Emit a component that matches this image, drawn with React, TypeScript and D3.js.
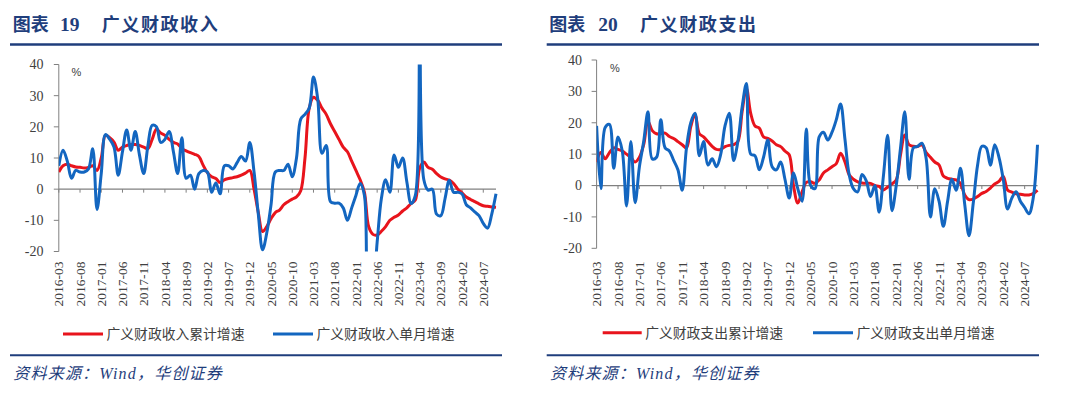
import React from 'react';
import * as d3 from 'd3';

// ---------- data ----------
const START_MONTH = '2016-03';
const N_MONTHS = 104; // 2016-03 .. 2024-10

const TICK_LABELS = [
  '2016-03', '2016-08', '2017-01', '2017-06', '2017-11', '2018-04', '2018-09',
  '2019-02', '2019-07', '2019-12', '2020-05', '2020-10', '2021-03', '2021-08',
  '2022-01', '2022-06', '2022-11', '2023-04', '2023-09', '2024-02', '2024-07',
];

const Y_TICKS = [40, 30, 20, 10, 0, -10, -20];

// 广义财政收入累计增速
const REV_CUM = [
  5.5, 7.5, 8, 7.5, 7.1, 7, 6.8, 7, 7.5, 6,
  10, 17.3, 16.5, 15.1, 12.5, 13.5, 14, 14.3, 14.3, 14,
  13.5, 13, 16, 19.2, 18, 17.3, 16, 15, 14.5, 13,
  12.3, 11.7, 11.2, 10.5, 7.7, 5.3, 4, 3.4, 2.1, 3,
  3.4, 3.7, 4, 4.5, 5.2, 6, 0, -7.5, -13.6, -12,
  -9.5, -7.5, -6.7, -5, -4, -3.2, -2.5, -0.5, 10, 26,
  29.5, 28.5, 26, 24, 21, 18.5, 16, 13.5, 12, 9,
  6, 3, -1, -12, -14.5, -14.7, -13.5, -12, -10, -9,
  -8.3, -7, -6, -4.6, -3.5, 6.6, 8.7, 7, 6.4, 5,
  3.9, 3.3, 2.9, 1.8, 0, -1.2, -2.5, -3.3, -4, -4.7,
  -5.3, -5.5, -5.7, -5.8,
];

// 广义财政收入单月增速
const REV_MONTH = [
  7.5, 12.5, 9, 3.5, 6, 5.5, 5.5, 6.5, 13, -6.5,
  5, 17.5, 16, 13.5, 4.5, 12, 19, 12.5, 18.5, 11,
  5, 14, 20.5, 20, 15, 16, 18.5, 12, 5, 16.5,
  3.5, 4.5, 0, 5, 6, 5.5, -1, 2, -1.5, 7.5,
  7.5, 6.5, 8.5, 10.5, 9, 15, 5.5, -8, -19.5, -14,
  -5, 5.5, 6, 6, 8, 4, 10, 22.5, 24, 26,
  36, 29, 11.5, 14, -4, -4.5, -4.5, -6, -10, -6,
  -2, 1.8, -2, -35, -32, -17, -3, 3, -1, 11,
  7, 10, 2.3, -4.6, -2, 75, 3, -0.3, 0, -8,
  -8.5, -3, 2.9, -1, -1, -1.5, -5, -6, -7.3, -8.5,
  -11, -12.5, -8, -1.5,
];

// 广义财政支出累计增速
const EXP_CUM = [
  7.5, 10.5, 8.5, 10.5, 12, 11.5, 11, 10, 9, 7.5,
  9, 13, 20.5, 17.5, 16.5, 16.5, 16.7, 15.6, 15, 14,
  13, 12, 18.8, 22.7, 16.5, 15.5, 14, 12.5, 11.5, 11.5,
  12.4, 12.8, 13, 14, 23.6, 31, 23, 19, 18.3, 15.5,
  15, 14.2, 13, 12.4, 11, 9.8, 0, -5.6, -2, 1,
  1.2, 0.7, 1.8, 4, 5, 6, 7, 10.3, 7.6, 3.4,
  2, 1.2, 0.8, 0.7, 0.7, 0, -0.3, -1.4, -0.5, 0.5,
  1.8, 9.8, 16.1, 13, 12.5, 12.4, 13, 10.5, 9, 7.5,
  6.6, 3, 2.3, 2, 1.8, 0.7, -3, -4.5, -4.3, -3.5,
  -2.5, -1.9, -0.8, 0.5, 1.3, 2.9, -1.4, -2.1, -2.6, -2.8,
  -3, -3, -2.6, -1.5,
];

// 广义财政支出单月增速
const EXP_MONTH = [
  19, -1, 18.5, 19.5, 5.5, 15.5, 11, -6.5, 14, -5.5,
  6, 14, 23.5, 8.5, 9, 21, 12, 11, 8, 5,
  -1.5, 12, 20, 23, 9.5, 14, 6.5, 8.5, 6, 10,
  19, 23, 8, 14, 25, 32.5, 10, 9.5, 5, 9,
  14.5, 6, 5, 7.5, 2, -4, 4, -1, -5, 18,
  0, -1, 15.5, 17, 14.5, 17, 21, 26, 15, 3.5,
  -1, -2, 3.5, 1.5, -3.5, 0, -8.5, 3, 16, -8,
  0, 12, 23.5, 2, 12, 12.5, 13.5, 8.5, -10, -1,
  -5, -13, -5, 2, -1.5, 5.5, -6, -16, -5.5, 6.5,
  12.5, 12, 6.5, 13, 9, 2, -7.5, -4, -2, -5,
  -7, -9, -4, 13,
];

// ---------- style ----------
const RED = '#E8141C';
const BLUE = '#1366C0';
const NAVY = '#1F3E7C';
const AXIS = '#808080';
const TEXT = '#404040';
const SERIF = "'Liberation Serif', 'Times New Roman', serif";
const CJK = "'Noto Sans CJK SC', 'Noto Sans', sans-serif";
const MIXED = "'Liberation Serif', 'Noto Sans CJK SC', serif";

const monthIndex = d3.range(N_MONTHS);
const startDate = d3.timeParse('%Y-%m')(START_MONTH) as Date;
const categories = monthIndex.map((i) => d3.timeFormat('%Y-%m')(d3.timeMonth.offset(startDate, i)));

interface PanelProps {
  id: string;
  num: string;
  title: string;
  cumName: string;
  monName: string;
  cum: number[];
  mon: number[];
  titleX: number;
  numX: number;
  title2X: number;
  ruleX0: number;
  ruleX1: number;
  px0: number;
  px1: number;
  pyTop: number;
  pyBot: number;
  yLabelRight: number;
  pctX: number;
  pctY: number;
  legY: number;
  legRed: [number, number];
  legBlue: [number, number];
  sourceX: number;
}

function Panel(p: PanelProps) {
  const x = d3.scaleLinear().domain([0, N_MONTHS - 1]).range([p.px0, p.px1]);
  const y = d3.scaleLinear().domain([-20, 40]).range([p.pyBot, p.pyTop]);
  const line = d3
    .line<number>()
    .x((_, i) => x(i))
    .y((d) => y(d))
    .curve(d3.curveCatmullRom.alpha(0.5));
  const tickIdx = TICK_LABELS.map((t) => categories.indexOf(t));
  const clipId = `clip-${p.id}`;
  return (
    <g>
      {/* title */}
      <text x={p.titleX} y={30.5} fontFamily={CJK} fontWeight={700} fontSize={18} fill={NAVY}>
        图表
      </text>
      <text x={p.numX} y={30.5} fontFamily={SERIF} fontWeight={700} fontSize={19.5} fill={NAVY}>
        {p.num}
      </text>
      <text x={p.title2X} y={30.5} fontFamily={CJK} fontWeight={700} fontSize={18} letterSpacing={1.6} fill={NAVY}>
        {p.title}
      </text>
      <line x1={p.ruleX0} x2={p.ruleX1} y1={44.5} y2={44.5} stroke={NAVY} strokeWidth={2.6} />

      <defs>
        <clipPath id={clipId}>
          <rect x={p.px0} y={p.pyTop} width={p.px1 - p.px0 + 2} height={p.pyBot - p.pyTop} />
        </clipPath>
      </defs>

      {/* y axis */}
      <line x1={p.px0} x2={p.px0} y1={y(40)} y2={y(-20)} stroke={AXIS} strokeWidth={1} />
      {Y_TICKS.map((t) => (
        <g key={t}>
          <line x1={p.px0 - 5} x2={p.px0} y1={y(t)} y2={y(t)} stroke={AXIS} strokeWidth={1} />
          <text
            x={p.yLabelRight}
            y={y(t)}
            dy="0.35em"
            textAnchor="end"
            fontFamily={SERIF}
            fontSize={14}
            fill={TEXT}
          >
            {t}
          </text>
        </g>
      ))}
      <text x={p.pctX} y={p.pctY} fontFamily="'Liberation Sans', Arial, sans-serif" fontSize={11} fill={TEXT}>
        %
      </text>

      {/* x axis at zero */}
      <line x1={p.px0} x2={p.px1} y1={y(0)} y2={y(0)} stroke={AXIS} strokeWidth={1.2} />
      {tickIdx.map((i) => (
        <line key={i} x1={x(i)} x2={x(i)} y1={y(0)} y2={y(0) + 3.5} stroke={AXIS} strokeWidth={1} />
      ))}
      {tickIdx.map((i, k) => (
        <text
          key={`l${i}`}
          transform={`translate(${x(i)},${261.5}) rotate(-90)`}
          textAnchor="end"
          dy="0.34em"
          fontFamily={SERIF}
          fontSize={13.5}
          fill={TEXT}
        >
          {TICK_LABELS[k]}
        </text>
      ))}

      {/* series */}
      <g clipPath={`url(#${clipId})`}>
        <path d={line(p.cum) || ''} fill="none" stroke={RED} strokeWidth={3} strokeLinejoin="round" />
        <path d={line(p.mon) || ''} fill="none" stroke={BLUE} strokeWidth={3} strokeLinejoin="round" />
      </g>

      {/* legend */}
      <line x1={p.legRed[0]} x2={p.legRed[1]} y1={p.legY} y2={p.legY} stroke={RED} strokeWidth={3} />
      <text x={p.legRed[1] + 3.5} y={p.legY} dy="0.36em" fontFamily={CJK} fontSize={13.8} fill={TEXT}>
        {p.cumName}
      </text>
      <line x1={p.legBlue[0]} x2={p.legBlue[1]} y1={p.legY} y2={p.legY} stroke={BLUE} strokeWidth={3} />
      <text x={p.legBlue[1] + 3.5} y={p.legY} dy="0.36em" fontFamily={CJK} fontSize={13.8} fill={TEXT}>
        {p.monName}
      </text>

      {/* footer */}
      <line x1={p.ruleX0} x2={p.ruleX1} y1={355.3} y2={355.3} stroke={NAVY} strokeWidth={2} />
      <text
        x={p.sourceX}
        y={379}
        fontFamily={MIXED}
        fontStyle="italic"
        fontSize={16}
        letterSpacing={1.2}
        fill={NAVY}
      >
        资料来源：Wind，华创证券
      </text>
    </g>
  );
}

export default function App() {
  return (
    <svg
      width={1080}
      height={397}
      viewBox="0 0 1080 397"
      style={{ position: 'absolute', left: 0, top: 0, background: '#fff' }}
    >
      <rect width={1080} height={397} fill="#fff" />
      <Panel
        id="rev"
        num="19"
        title="广义财政收入"
        cumName="广义财政收入累计增速"
        monName="广义财政收入单月增速"
        cum={REV_CUM}
        mon={REV_MONTH}
        titleX={12.7}
        numX={60}
        title2X={101.7}
        ruleX0={10}
        ruleX1={502}
        px0={58.8}
        px1={496}
        pyTop={64.5}
        pyBot={251.5}
        yLabelRight={43.5}
        pctX={71.5}
        pctY={75.5}
        legY={334}
        legRed={[63, 103]}
        legBlue={[273, 313]}
        sourceX={13.3}
      />
      <Panel
        id="exp"
        num="20"
        title="广义财政支出"
        cumName="广义财政支出累计增速"
        monName="广义财政支出单月增速"
        cum={EXP_CUM}
        mon={EXP_MONTH}
        titleX={549.3}
        numX={598.3}
        title2X={640}
        ruleX0={546.7}
        ruleX1={1039}
        px0={596.6}
        px1={1037.5}
        pyTop={60}
        pyBot={248.3}
        yLabelRight={582}
        pctX={610}
        pctY={72}
        legY={332.7}
        legRed={[602.7, 641.7]}
        legBlue={[813, 853]}
        sourceX={550}
      />
    </svg>
  );
}
